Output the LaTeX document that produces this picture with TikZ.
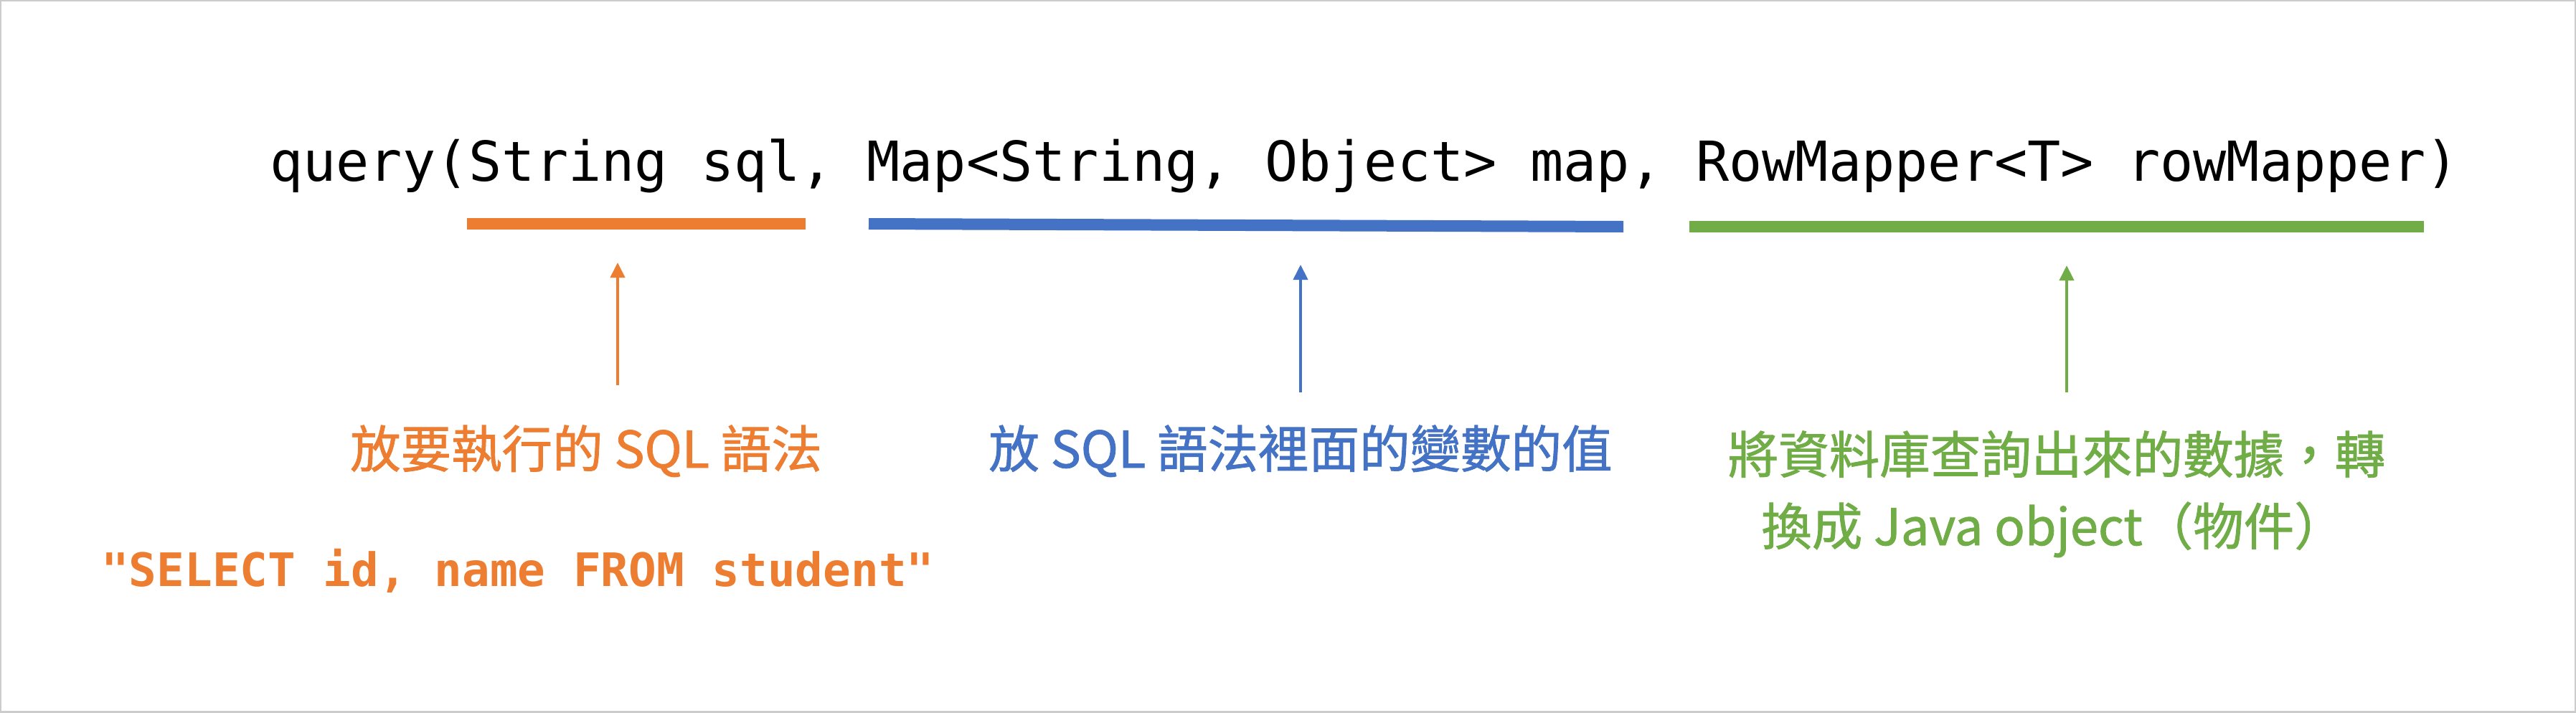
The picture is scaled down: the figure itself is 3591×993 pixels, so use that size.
\documentclass[tikz,border=0pt]{standalone}
\usepackage{fontspec}
\usetikzlibrary{arrows.meta}
\newfontfamily\codefont{DejaVu Sans Mono}
\newfontfamily\cjk[FakeBold=1.2]{Noto Sans CJK TC}
\definecolor{ppOrange}{HTML}{ED7D31}
\definecolor{ppBlue}{HTML}{4472C4}
\definecolor{ppGreen}{HTML}{70AD47}
\definecolor{frameGray}{HTML}{CCCCCC}
\tikzset{
  codetext/.style={inner sep=0pt, anchor=base west, font=\codefont\fontsize{76.8}{90}\selectfont},
  sqltext/.style={inner sep=0pt, anchor=base west, text=ppOrange, font=\codefont\bfseries\fontsize{64.3}{76}\selectfont},
  label/.style={inner sep=0pt, anchor=base, font=\cjk\fontsize{70.5}{84}\selectfont},
  bar/.style={line width=16pt},
  pointer/.style={line width=4pt, -{Triangle[length=21pt,width=20pt]}},
}
\begin{document}
\begin{tikzpicture}[x=1pt,y=-1pt]
\useasboundingbox (0,0) rectangle (3591,993);
\fill[white] (0,0) rectangle (3591,993);
\draw[frameGray, line width=4pt] (0,0) rectangle (3591,993);

% code line
\node[codetext] (code) at (376,252) {query(String sql, Map<String, Object> map, RowMapper<T> rowMapper)};

% underline bars
\coordinate (ob1) at (651,312);
\coordinate (ob2) at (1123,312);
\coordinate (bb1) at (1211,312);
\coordinate (bb2) at (2263,316);
\coordinate (gb1) at (2355,316);
\coordinate (gb2) at (3379,316);
\draw[bar, ppOrange] (ob1) -- (ob2);
\draw[bar, ppBlue] (bb1) -- (bb2);
\draw[bar, ppGreen] (gb1) -- (gb2);

% arrows
\coordinate (oat) at (861,537);
\coordinate (oah) at (861,366);
\coordinate (bat) at (1813,547);
\coordinate (bah) at (1813,369);
\coordinate (gat) at (2881,547);
\coordinate (gah) at (2881,370);
\draw[pointer, ppOrange] (oat) -- (oah);
\draw[pointer, ppBlue] (bat) -- (bah);
\draw[pointer, ppGreen] (gat) -- (gah);

% labels
\node[label, text=ppOrange] (olabel) at (817,652) {放要執行的 SQL 語法};
\node[label, text=ppBlue] (blabel) at (1813,652) {放 SQL 語法裡面的變數的值};
\node[label, text=ppGreen] (glabel1) at (2867,660) {將資料庫查詢出來的數據，轉};
\node[label, text=ppGreen] (glabel2) at (2862,760) {換成 Java object（物件）};

\node[sqltext] (sql) at (141,817) {"SELECT id, name FROM student"};
\end{tikzpicture}
\end{document}
